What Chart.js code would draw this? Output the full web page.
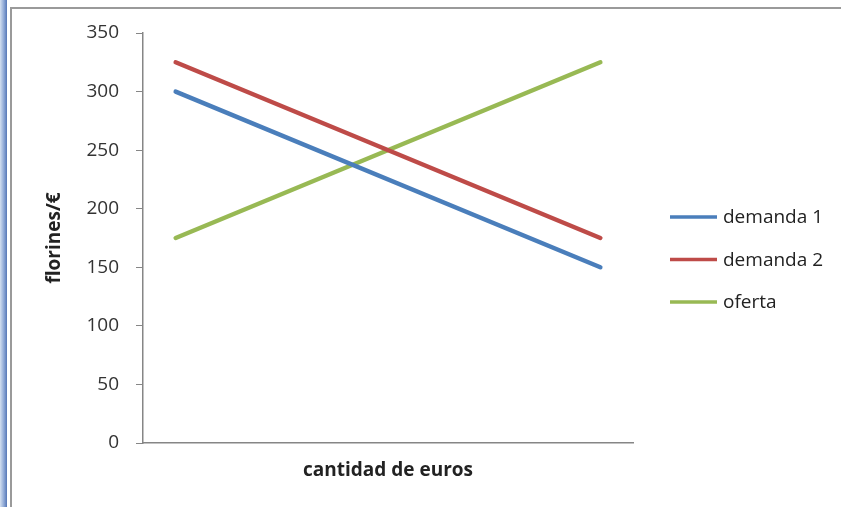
<!DOCTYPE html>
<html>
<head>
<meta charset="utf-8">
<script src="https://cdn.jsdelivr.net/npm/chart.js@4/dist/chart.umd.min.js"></script>
<style>
  html, body { margin: 0; padding: 0; background: #fff; }
  #wrap { position: relative; width: 841px; height: 507px; overflow: hidden; }
  #strip { position: absolute; left: 0; top: 0; width: 7px; height: 507px;
           background: linear-gradient(to right, #d4e0f0, #8fa9d6 55%, #5677b6); }
  #frame { position: absolute; left: 10px; top: 7px; width: 860px; height: 540px;
           border: 2px solid #9a9a9a; box-sizing: border-box; }
  canvas { position: absolute; left: 0; top: 0; }
</style>
</head>
<body>
<div id="wrap">
  <div id="strip"></div>
  <div id="frame"></div>
  <canvas id="chart" width="841" height="507"></canvas>
</div>
<script>
// ── Data ──────────────────────────────────────────────────────
const xValues   = [1, 14];
const demanda1  = [300, 150];
const demanda2  = [325, 175];
const oferta    = [175, 325];
const seriesNames  = ['demanda 1', 'demanda 2', 'oferta'];
const seriesColors = ['#4a7ebb', '#be4b48', '#98b954'];
const yTicks = [0, 50, 100, 150, 200, 250, 300, 350];

const FONT = '"Open Sans", "DejaVu Sans", sans-serif';

const toPoints = vals => vals.map((v, i) => ({ x: xValues[i], y: v }));

// ── Legend drawn at the right, Excel style ────────────────────
const sideLegend = {
  id: 'sideLegend',
  afterDraw(chart) {
    const ctx = chart.ctx;
    ctx.save();
    ctx.font = '19px ' + FONT;
    ctx.textBaseline = 'middle';
    ctx.fillStyle = '#222';
    chart.data.datasets.forEach((ds, i) => {
      const y = 217 + i * 42.5;
      ctx.strokeStyle = ds.borderColor;
      ctx.lineWidth = 3.5;
      ctx.beginPath();
      ctx.moveTo(670, y);
      ctx.lineTo(717, y);
      ctx.stroke();
      ctx.fillText(ds.label, 723, y + 1);
    });
    ctx.restore();
  }
};

new Chart(document.getElementById('chart'), {
  type: 'line',
  data: {
    datasets: [demanda1, demanda2, oferta].map((vals, i) => ({
      label: seriesNames[i],
      data: toPoints(vals),
      borderColor: seriesColors[i],
      backgroundColor: seriesColors[i],
      borderWidth: 4.5,
      borderCapStyle: 'round',
      pointRadius: 0,
      tension: 0
    }))
  },
  options: {
    responsive: false,
    animation: false,
    devicePixelRatio: 1,
    layout: { padding: { left: 0, right: 208, top: 33, bottom: 0 } },
    plugins: { legend: { display: false }, tooltip: { enabled: false } },
    scales: {
      x: {
        type: 'linear',
        min: 0, max: 15,
        grid: { display: false },
        border: { display: true, color: '#868686', width: 1.5 },
        ticks: { display: false },
        title: {
          display: true,
          text: 'cantidad de euros',
          color: '#222',
          font: { family: FONT, size: 19, weight: 'bold' },
          padding: { top: 0, bottom: 25 }
        },
        afterFit(scale) { scale.height = 64; }
      },
      y: {
        min: 0, max: 350,
        afterBuildTicks(scale) { scale.ticks = yTicks.map(v => ({ value: v })); },
        grid: { drawOnChartArea: false, drawTicks: true, tickLength: 7, color: '#868686' },
        border: { display: true, color: '#868686', width: 1.5 },
        ticks: { padding: 17, color: '#333', font: { family: FONT, size: 19 } },
        title: {
          display: true,
          text: 'florines/€',
          color: '#222',
          font: { family: FONT, size: 19, weight: 'bold' },
          padding: { top: 43, bottom: 0 }
        },
        afterFit(scale) { scale.width = 143; }
      }
    }
  },
  plugins: [sideLegend]
});
</script>
</body>
</html>
